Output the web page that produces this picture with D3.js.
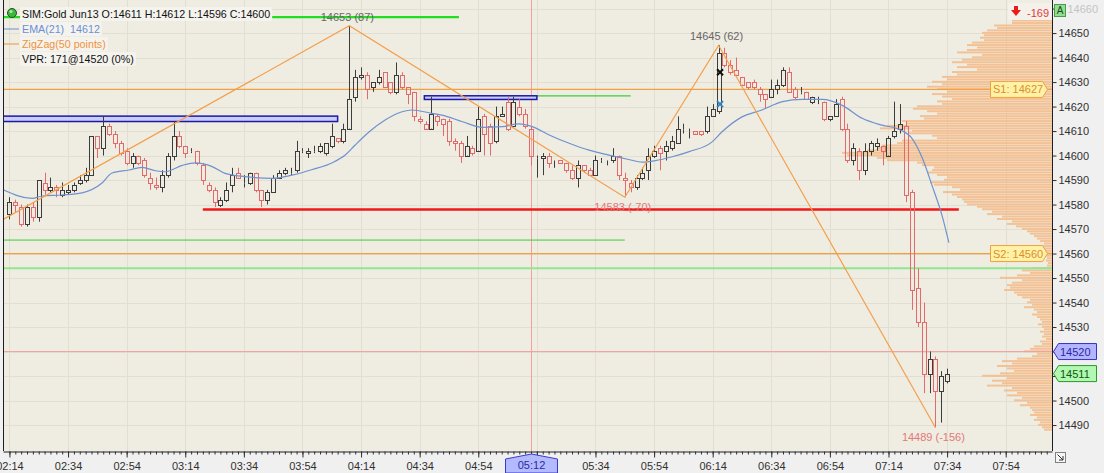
<!DOCTYPE html>
<html><head><meta charset="utf-8">
<script src="https://cdn.jsdelivr.net/npm/d3@7"></script>
<style>
html,body{margin:0;padding:0;background:#f0f0f0;overflow:hidden}
svg{display:block;font-family:"Liberation Sans",Arial,sans-serif}
.pre{white-space:pre}
</style></head><body>
<svg id="c" width="1104" height="473"></svg>
<script>
// ---------- DATA ----------
const firstBarMinute = 134;   // 02:14
const barMinutes = 2;
const opens  = [14576,14581,14579,14572,14579,14575,14589,14586,14587,14584,14585,14586,14589,14590,14592,14608,14603,14612,14609,14605,14602,14597,14600,14598,14591,14588,14587,14592,14600,14608,14604,14602,14602,14596,14588,14586,14580,14582,14588,14593,14589,14589,14593,14586,14582,14585,14591,14593,14593,14594,14602,14601,14602,14602,14601,14604,14607,14606,14611,14624,14632,14633,14628,14630,14634,14630,14626,14633,14628,14626,14615,14613,14611,14616,14615,14614,14606,14605,14600,14603,14602,14616,14612,14606,14616,14622,14612,14620,14617,14611,14599,14599,14600,14598,14598,14597,14594,14591,14596,14594,14592,14598,14598,14598,14600,14591,14589,14587,14591,14594,14600,14603,14602,14603,14605,14611,14610,14610,14610,14610,14616,14618,14642,14637,14635,14632,14630,14630,14627,14625,14624,14627,14629,14634,14627,14626,14626,14622,14623,14622,14615,14616,14623,14611,14598,14602,14594,14602,14604,14604,14600,14608,14611,14612,14585,14546,14532,14511,14517,14504,14508];
const highs  = [14583,14582,14580,14580,14581,14590,14593,14591,14588,14589,14588,14589,14592,14595,14608,14608,14616,14613,14610,14606,14603,14601,14600,14599,14593,14591,14594,14601,14614,14610,14604,14603,14602,14597,14589,14587,14583,14589,14595,14595,14592,14593,14593,14586,14586,14592,14594,14595,14595,14606,14603,14603,14604,14605,14605,14613,14607,14613,14653,14635,14636,14634,14630,14635,14634,14630,14638,14634,14628,14626,14616,14614,14624,14617,14615,14615,14607,14606,14608,14604,14620,14617,14613,14620,14620,14624,14624,14623,14619,14612,14600,14601,14601,14598,14598,14597,14596,14598,14596,14595,14600,14599,14598,14603,14600,14593,14590,14592,14595,14603,14604,14604,14606,14608,14616,14613,14611,14610,14610,14620,14621,14645,14644,14639,14640,14632,14630,14631,14628,14625,14631,14631,14636,14636,14628,14628,14626,14624,14624,14622,14616,14623,14624,14613,14605,14603,14605,14606,14607,14604,14608,14622,14621,14614,14586,14554,14540,14520,14518,14512,14513];
const lows   = [14574,14577,14571,14571,14573,14573,14584,14585,14583,14583,14584,14585,14588,14589,14592,14599,14600,14608,14603,14600,14596,14595,14596,14591,14586,14586,14585,14591,14598,14603,14599,14601,14596,14588,14585,14579,14579,14581,14585,14591,14587,14588,14585,14579,14580,14585,14591,14592,14592,14593,14601,14599,14601,14601,14600,14603,14605,14605,14611,14622,14631,14623,14626,14629,14628,14625,14625,14627,14621,14614,14613,14611,14611,14612,14608,14604,14602,14597,14600,14600,14602,14600,14600,14605,14616,14610,14612,14616,14611,14596,14591,14592,14595,14595,14597,14593,14590,14587,14593,14592,14592,14597,14596,14597,14590,14583,14585,14586,14590,14590,14599,14594,14598,14602,14605,14609,14607,14609,14608,14609,14616,14617,14636,14633,14633,14629,14627,14627,14622,14619,14624,14625,14628,14626,14623,14625,14623,14621,14621,14614,14614,14616,14610,14597,14596,14590,14592,14600,14602,14596,14600,14607,14609,14581,14537,14530,14503,14503,14489,14491,14507];
const closes = [14581,14580,14572,14579,14575,14590,14586,14587,14586,14586,14586,14588,14590,14592,14608,14603,14612,14609,14605,14601,14597,14600,14597,14592,14589,14587,14592,14600,14608,14604,14601,14602,14597,14590,14586,14581,14582,14586,14592,14591,14589,14593,14586,14582,14585,14591,14593,14594,14593,14602,14602,14602,14602,14604,14605,14608,14606,14611,14623,14632,14633,14627,14630,14632,14628,14626,14633,14628,14625,14616,14614,14611,14617,14614,14613,14606,14605,14600,14604,14601,14615,14609,14605,14616,14617,14611,14622,14617,14612,14600,14599,14600,14597,14598,14597,14594,14591,14596,14594,14592,14598,14598,14598,14600,14592,14590,14587,14591,14593,14600,14602,14601,14604,14606,14611,14611,14610,14609,14609,14616,14619,14642,14637,14634,14633,14629,14628,14628,14625,14623,14627,14629,14635,14626,14624,14626,14623,14624,14623,14615,14616,14621,14611,14598,14603,14594,14602,14605,14605,14602,14607,14610,14613,14584,14545,14532,14511,14517,14504,14510,14511];

// EMA(21): bar position / value
const emaPos = [-1.2,3.9,5.6,9,12.4,15.8,17.5,20.4,22.6,24.9,26.6,29.5,31.7,34.6,36.8,40.2,44.8,48.2,51.7,55.1,57.3,59,61.4,64.1,67,68.7,72.1,73.8,77.3,80.7,84.1,86.9,89.2,92.1,95.5,98.9,102.3,105.7,108,110.2,113.1,116,119.9,121.6,125,128.4,131.9,135.3,138.7,142.1,145.5,148.9,151.8,154,155.8,157.5,159.2,160.3];
const emaVal = [14586.2,14582.5,14583.5,14583.9,14584.8,14588.8,14592.9,14594.1,14595.2,14593.8,14593.4,14596,14597,14595.5,14592.7,14591.4,14590.7,14592,14594.3,14597.1,14600.2,14604.3,14609.7,14614.5,14617.9,14618.6,14617.2,14616.5,14613.8,14611.5,14611.8,14612.9,14611.8,14608.4,14605,14602.2,14600.2,14598.4,14597.3,14597.9,14599.5,14601.6,14605.6,14609.7,14615.8,14618.6,14622,14622.9,14622.9,14620.5,14615.2,14612.4,14610.7,14607,14598.8,14587.3,14575,14564.5];

// ZigZag(50 points) swing points
const zzBar = [-7,58,105,121,158];
const zzVal = [14566,14653,14583,14645,14489];

// Volume profile, one level per point, from profileStart upward
const profileStart = 14488;
const profileVol = [8,10,14,12,18,15,22,18,20,22,32,25,38,30,45,35,48,40,65,50,60,45,70,52,38,45,55,40,50,35,20,15,28,22,18,10,12,6,10,8,12,8,10,14,10,12,15,20,15,18,28,20,25,22,30,35,38,48,42,45,40,30,52,35,22,30,20,5,4,6,5,6,8,7,9,10,8,12,15,18,22,25,30,36,45,40,55,50,65,60,70,75,85,88,90,95,100,109,92,100,118,122,108,105,115,125,120,118,130,135,165,175,205,210,185,174,170,155,150,115,120,144,140,172,165,145,150,128,132,115,125,139,135,110,115,100,110,120,105,115,125,110,120,105,110,95,100,75,95,85,100,90,80,70,95,85,75,85,80,68,72,68,70,65,55,58,40,40,30,25];

// Levels and zones
const s1Price = 14627, s2Price = 14560;
const lightGreenPrice = 14554;
const redLine = {from:33, to:162, price:14578};
const topGreen = {from:-2, to:76.7, price:14656.5};
const lowGreen = {from:-2, to:105, price:14565.5};
const midGreen = {from:90, to:106, price:14624.4};
const zones = [{from:-3, to:56, lo:14613.9, hi:14616.1},{from:70.8, to:90, lo:14622.9, hi:14624.4}];
const crossMinute = 312, crossPrice = 14520;
const crossBar = 89;
const lastPrice = 14511;
const markBar = 121, markBlack = 14634, markBlue = 14621;
const yTicks = d3.range(14490, 14661, 10);
const xTickMinutes = d3.range(134, 480, 20);

// ---------- CHART ----------
const svg = d3.select("#c");
const L = 3, R = 1052, T = 0, B = 451;
const x = d3.scaleLinear().domain([131.8, 489.8]).range([L, R]);
const y = d3.scaleLinear().domain([14479.4, 14663.5]).range([B, T]);
const bx = i => x(firstBarMinute + barMinutes * i);
const fmt = m => d3.format("02d")(Math.floor(m/60)) + ":" + d3.format("02d")(m % 60);

svg.append("rect").attr("width",1104).attr("height",473).attr("fill","#f0f0f0");
svg.append("rect").attr("x",L).attr("y",T).attr("width",R-L).attr("height",B-T).attr("fill","#efece2");
svg.append("defs").append("clipPath").attr("id","clip").append("rect").attr("x",L).attr("y",T).attr("width",R-L).attr("height",B-T);
const g = svg.append("g").attr("clip-path","url(#clip)");

// grid
g.selectAll(".hg").data(yTicks).join("line").attr("x1",L).attr("x2",R)
  .attr("y1",d=>Math.round(y(d))+0.5).attr("y2",d=>Math.round(y(d))+0.5).attr("stroke","#e2ded2");
g.selectAll(".vg").data(xTickMinutes).join("line").attr("y1",T).attr("y2",B)
  .attr("x1",d=>Math.round(x(d))+0.5).attr("x2",d=>Math.round(x(d))+0.5).attr("stroke","#e2ded2");

// volume profile
const pv = d3.scaleLinear().domain([0, 210]).range([0, 210]);
const step = y(0) - y(1);
g.selectAll(".pf").data(profileVol).join("rect")
  .attr("x", d => R - pv(d)).attr("width", d => pv(d))
  .attr("y", (d,i) => y(profileStart + i + 0.5)).attr("height", step - 0.5)
  .attr("fill","#f4b681").attr("opacity",0.8);

// horizontal levels
function hline(p, x1, x2, color, w){
  g.append("line").attr("x1",x1).attr("x2",x2).attr("y1",y(p)).attr("y2",y(p)).attr("stroke",color).attr("stroke-width",w);
}
hline(crossPrice, L, R, "#f2a0a0", 1);
g.append("line").attr("x1",Math.round(x(crossMinute))+0.5).attr("x2",Math.round(x(crossMinute))+0.5).attr("y1",T).attr("y2",B).attr("stroke","#f2a0a0");
hline(s1Price, L, R, "#f0a040", 1.2);
hline(s2Price, L, R, "#f0a040", 1.2);
hline(lightGreenPrice, L, R, "#8fe88f", 2.2);
hline(lowGreen.price, bx(lowGreen.from), bx(lowGreen.to), "#3ccc3c", 1);
hline(midGreen.price, bx(midGreen.from), bx(midGreen.to), "#3ccc3c", 1.2);
hline(topGreen.price, bx(topGreen.from), bx(topGreen.to), "#22dd22", 2.2);

// zones
g.selectAll(".zone").data(zones).join("rect")
  .attr("x", d => bx(d.from)).attr("width", d => bx(d.to) - bx(d.from))
  .attr("y", d => y(d.hi)).attr("height", d => y(d.lo) - y(d.hi))
  .attr("fill","#ccccf8").attr("stroke","#1a1aa8").attr("stroke-width",1.5);

hline(redLine.price, bx(redLine.from), bx(redLine.to), "#f01818", 2.6);

// candles
const bars = d3.range(opens.length);
const cg = g.append("g");
bars.forEach(i => {
  const o = opens[i], c = closes[i], h = highs[i], l = lows[i];
  const up = c >= o;
  const col = up ? "#3c3c3c" : "#e36a6a";
  const cx = Math.round(bx(i)) + 0.5;
  const yt = Math.round(y(Math.max(o,c))) + 0.5, yb = Math.round(y(Math.min(o,c))) + 0.5;
  cg.append("line").attr("x1",cx).attr("x2",cx).attr("y1",y(h)).attr("y2",yt).attr("stroke",col);
  cg.append("line").attr("x1",cx).attr("x2",cx).attr("y1",yb).attr("y2",y(l)).attr("stroke",col);
  cg.append("rect").attr("x",cx-2).attr("width",4).attr("y",yt).attr("height",Math.max(0,yb-yt))
    .attr("fill","none").attr("stroke",col);
});

// EMA
const emaPts = emaPos.map((p,i)=>[bx(p), y(emaVal[i])]);
g.append("path").attr("d", d3.line().curve(d3.curveMonotoneX)(emaPts))
  .attr("fill","none").attr("stroke","#6f92cf").attr("stroke-width",1.2);

// ZigZag
const zzPts = zzBar.map((b,i)=>[bx(b), y(zzVal[i])]);
g.append("path").attr("d", d3.line()(zzPts)).attr("fill","none").attr("stroke","#f3a04c").attr("stroke-width",1.2);
zzBar.forEach((b,i) => {
  if (i === 0) return;
  const diff = zzVal[i] - zzVal[i-1];
  const isHigh = diff > 0;
  svg.append("text").attr("x", bx(b) - 2).attr("y", isHigh ? y(zzVal[i]) - 5 : y(zzVal[i]) + 14)
    .attr("text-anchor","middle").attr("font-size","11px")
    .attr("fill", isHigh ? "#666666" : "#e27878")
    .text(zzVal[i] + " (" + diff + ")");
});

// markers
function xMark(cx, cy, col){
  const s = 3;
  g.append("path").attr("d",`M${cx-s},${cy-s}L${cx+s},${cy+s}M${cx-s},${cy+s}L${cx+s},${cy-s}`)
    .attr("stroke",col).attr("stroke-width",2);
}
xMark(bx(markBar)+1.5, y(markBlack), "#111111");
xMark(bx(markBar)+1.5, y(markBlue), "#2f86c6");

// plot borders
svg.append("line").attr("x1",L+0.5).attr("x2",L+0.5).attr("y1",T).attr("y2",B).attr("stroke","#202020");
svg.append("line").attr("x1",R+0.5).attr("x2",R+0.5).attr("y1",T).attr("y2",B).attr("stroke","#202020");

// axes (labels hidden under the crosshair / price tags, as in the reference)
const hiddenX = new Set([crossMinute + 2]);
const ax = svg.append("g").attr("transform",`translate(0,${B+0.5})`)
  .call(d3.axisBottom(x).tickValues(xTickMinutes).tickFormat(d => hiddenX.has(d) ? "" : fmt(d)).tickSize(6).tickSizeOuter(0));
ax.select(".domain").attr("stroke","#202020");
ax.selectAll("line").attr("stroke","#303030");
ax.selectAll("text").attr("font-size","11px").attr("fill","#303030").attr("font-family","Liberation Sans, Arial").attr("dy","0.9em");
const axm = svg.append("g").attr("transform",`translate(0,${B+0.5})`)
  .call(d3.axisBottom(x).tickValues(d3.range(firstBarMinute, 490, barMinutes)).tickFormat("").tickSize(3).tickSizeOuter(0));
axm.select(".domain").remove();
axm.selectAll("line").attr("stroke","#303030");

const hiddenY = new Set([14510, 14520]);
const ay = svg.append("g").attr("transform",`translate(${R+0.5},0)`)
  .call(d3.axisRight(y).tickValues(yTicks).tickSize(4).tickSizeOuter(0)
    .tickFormat(d => hiddenY.has(d) ? "" : d3.format("d")(d)));
ay.select(".domain").remove();
ay.selectAll("line").attr("stroke","#303030");
ay.selectAll("text").attr("font-size","11px").attr("font-family","Liberation Sans, Arial")
  .attr("x", d => d === 14660 ? 15 : 6)
  .attr("fill", d => d === 14660 ? "#c4c4c4" : "#303030");

// right-side labels
function rightTag(p, txt){
  const cy = y(p);
  svg.append("path").attr("d",`M990.5,${cy-8}H1042.5L1047.5,${cy}L1042.5,${cy+8}H990.5Z`)
    .attr("fill","#fff2a6").attr("stroke","#f0a040");
  svg.append("text").attr("x",993).attr("y",cy+4).attr("font-size","11px").attr("fill","#dc8e2c").text(txt);
}
rightTag(s1Price, "S1: " + s1Price);
rightTag(s2Price, "S2: " + s2Price);
function axisTag(p, fill, stroke, tc){
  const cy = y(p);
  svg.append("path").attr("d",`M1053.5,${cy}L1058.5,${cy-8}H1096.5V${cy+8}H1058.5Z`)
    .attr("fill",fill).attr("stroke",stroke);
  svg.append("text").attr("x",1060).attr("y",cy+4).attr("font-size","11px").attr("fill",tc).text(p);
}
axisTag(crossPrice, "#b4b4ff", "#3434c8", "#2a2aa0");
axisTag(lastPrice, "#b2f8b2", "#2a9a2a", "#0c5a0c");

// A box and delta
svg.append("rect").attr("x",1054.5).attr("y",4.5).attr("width",11).attr("height",12).attr("fill","#90de90").attr("stroke","#4a9a4a");
svg.append("text").attr("x",1060).attr("y",14).attr("text-anchor","middle").attr("font-size","10px").attr("fill","#1c4a1c").text("A");
svg.append("rect").attr("x",1008).attr("y",3).attr("width",44).attr("height",17).attr("fill","#f4f1ea");
svg.append("path").attr("d","M1014,6H1018V10H1021L1016,16L1011,10H1014Z").attr("fill","#e81c1c");
svg.append("text").attr("x",1027).attr("y",17).attr("font-size","11px").attr("fill","#e23a3a").text("-169");

// crosshair time tag
const tx = Math.round(x(crossMinute)) + 0.5;
svg.append("path").attr("d",`M${tx-26},${B+8}L${tx},${B+3}L${tx+26},${B+8}V${B+22}H${tx-26}Z`)
  .attr("fill","#b4baff").attr("stroke","#3a3ad0");
svg.append("text").attr("x",tx).attr("y",B+18).attr("text-anchor","middle").attr("font-size","11px").attr("fill","#2a2aa0").text(fmt(crossMinute));

// corner icon
svg.append("rect").attr("x",1055.5).attr("y",452.5).attr("width",10).attr("height",10).attr("fill","#f6f6f6").attr("stroke","#808080");
svg.append("path").attr("d","M1057.5,454.5L1063,460M1063,456V460H1059").attr("fill","none").attr("stroke","#303030");

// legend
const lg = svg.append("g");
const rows = [
  {y:18, txt:`SIM:Gold Jun13 O:${opens[crossBar]} H:${highs[crossBar]} L:${lows[crossBar]} C:${closes[crossBar]}`, col:"#111111"},
  {y:33, txt:`EMA(21)  ${Math.round(emaVal[emaPos.indexOf(89.2)])}`, col:"#6b8fd6", line:"#6b8fd6"},
  {y:48, txt:"ZigZag(50 points)", col:"#f0923c", line:"#f0923c"},
  {y:63, txt:`VPR: 171@${crossPrice} (0%)`, col:"#111111"}
];
rows.forEach(r => {
  const t = lg.append("text").attr("class","pre").attr("x",22).attr("y",r.y).attr("font-size","10.7px").attr("fill",r.col).text(r.txt);
  const w = t.node().getComputedTextLength();
  lg.insert("rect","text").attr("x",20).attr("y",r.y-11).attr("width",w+4).attr("height",14).attr("fill","#f5f3ed");
  if (r.line) lg.append("line").attr("x1",4).attr("x2",19).attr("y1",r.y-4).attr("y2",r.y-4).attr("stroke",r.line);
});
lg.append("circle").attr("cx",12).attr("cy",13).attr("r",4.5).attr("fill","#3cb83c").attr("stroke","#2a4a2a");
lg.append("circle").attr("cx",11).attr("cy",11.5).attr("r",1.6).attr("fill","#9ff09f");
</script>
</body></html>
